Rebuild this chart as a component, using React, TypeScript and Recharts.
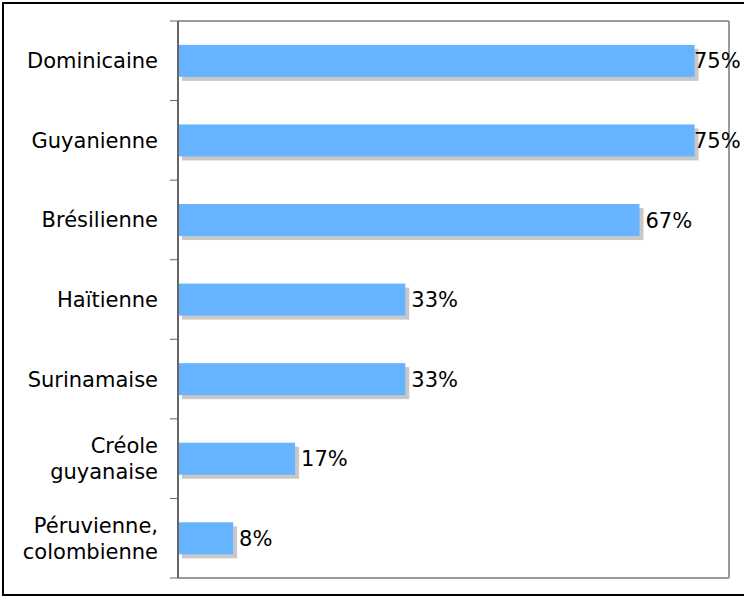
import React from "react";
import { BarChart, Bar, XAxis, YAxis, LabelList } from "recharts";

const categories = [
  "Dominicaine",
  "Guyanienne",
  "Brésilienne",
  "Haïtienne",
  "Surinamaise",
  "Créole guyanaise",
  "Péruvienne, colombienne",
];
const values = [75, 75, 67, 33, 33, 17, 8];
const xDomain: [number, number] = [0, 80];

const data = categories.map((name, i) => ({ name, value: values[i] }));

const FONT = "'DejaVu Sans', Verdana, sans-serif";
const BAR_COLOR = "#66B3FF";
const SHADOW_COLOR = "#C8C8C8";

const renderShadowBar = (props: any) => {
  const x = Number(props.x);
  const y = Number(props.y);
  const width = Number(props.width);
  const height = Number(props.height);
  if (!(width > 0) || !(height > 0)) return <g />;
  return (
    <g>
      <rect x={x + 4} y={y + 4} width={width} height={height} fill={SHADOW_COLOR} />
      <rect x={x} y={y} width={width} height={height} fill={BAR_COLOR} />
    </g>
  );
};

const ValueLabel = (props: any) => {
  const { x, y, width, height, value } = props;
  const text = `${value}%`;
  const textW = text.length * 16;
  let tx = x + width + 6;
  if (tx + textW > 742) tx = 742 - textW;
  return (
    <text x={tx} y={y + height / 2} dy="0.36em" fontFamily={FONT} fontSize={21} fill="#000">
      {text}
    </text>
  );
};

const CategoryTick = (props: any) => {
  const { x, y, payload, index, visibleTicksCount } = props;
  const half = payload && payload.offset ? payload.offset : 39.8;
  const label: string = payload.value;
  const words = label.split(" ");
  const lines = label.length > 12 && words.length > 1 ? [words.slice(0, -1).join(" "), words[words.length - 1]] : [label];
  const lh = 26;
  const startDy = -((lines.length - 1) * lh) / 2;
  return (
    <g>
      <text x={x} y={y} textAnchor="end" fontFamily={FONT} fontSize={21} fill="#000">
        {lines.map((ln, i) => (
          <tspan key={i} x={x} dy={i === 0 ? startDy + 7.5 : lh}>
            {ln}
          </tspan>
        ))}
      </text>
      <line x1={x + 12} x2={x + 20} y1={y - half} y2={y - half} stroke="#666" strokeWidth={1} />
      {index === visibleTicksCount - 1 && (
        <line x1={x + 12} x2={x + 20} y1={y + half} y2={y + half} stroke="#666" strokeWidth={1} />
      )}
    </g>
  );
};

export default function App() {
  return (
    <div style={{ position: "absolute", left: 0, top: 0, width: 744, height: 597, background: "#fff", overflow: "hidden" }}>
      <div
        style={{
          position: "absolute",
          left: 2,
          top: 2,
          width: 780,
          height: 590,
          border: "2px solid #000",
        }}
      />
      <div style={{ position: "absolute", left: 0, top: 0 }}>
        <BarChart
          width={744}
          height={597}
          data={data}
          layout="vertical"
          margin={{ top: 20, right: 14, bottom: 18, left: 0 }}
          barCategoryGap="30%"
        >
          <XAxis type="number" domain={xDomain} height={1} tick={false} tickLine={false} axisLine={{ stroke: "#999", strokeWidth: 2 }} />
          <XAxis xAxisId="top" orientation="top" type="number" domain={xDomain} height={1} tick={false} tickLine={false} axisLine={{ stroke: "#999", strokeWidth: 2 }} />
          <YAxis yAxisId="right" orientation="right" type="category" dataKey="name" width={1} tick={false} tickLine={false} axisLine={{ stroke: "#999", strokeWidth: 2 }} />
          <YAxis
            type="category"
            dataKey="name"
            width={178}
            axisLine={{ stroke: "#666", strokeWidth: 2 }}
            tickLine={false}
            tickSize={8}
            tickMargin={12}
            tick={<CategoryTick />}
            interval={0}
          />
          <Bar dataKey="value" fill={BAR_COLOR} shape={renderShadowBar} isAnimationActive={false}>
            <LabelList dataKey="value" content={<ValueLabel />} />
          </Bar>
        </BarChart>
      </div>
    </div>
  );
}
